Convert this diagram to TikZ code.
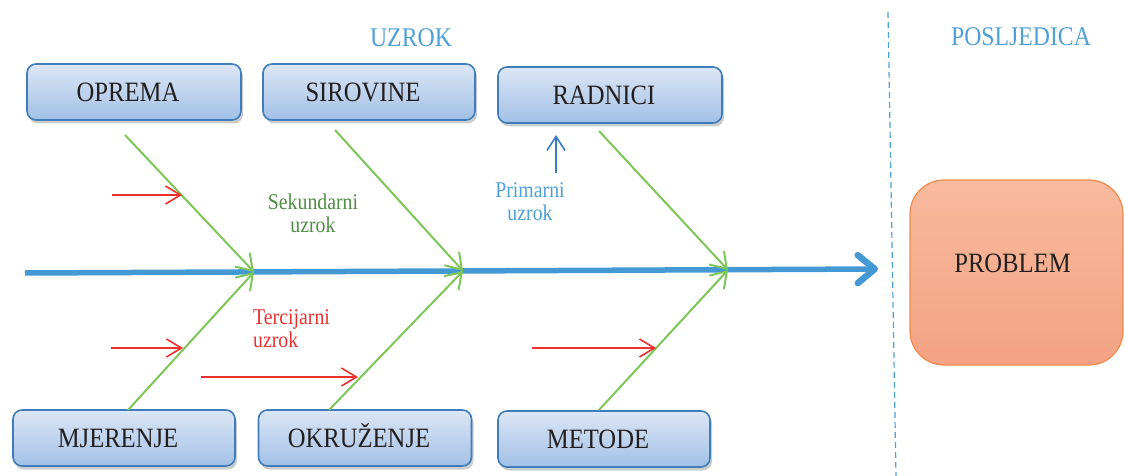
\documentclass[tikz,border=0pt]{standalone}
\usepackage{fontspec}
\setmainfont{Liberation Serif}[FakeStretch=0.88]
\usetikzlibrary{arrows.meta,shadows}
\definecolor{ink}{RGB}{35,31,32}
\definecolor{boxline}{RGB}{62,124,186}
\definecolor{boxtop}{RGB}{220,231,246}
\definecolor{boxbot}{RGB}{162,192,230}
\definecolor{hdrblue}{RGB}{78,160,216}
\definecolor{spineblue}{RGB}{68,152,212}
\definecolor{primblue}{RGB}{58,124,192}
\definecolor{bonegreen}{RGB}{126,198,88}
\definecolor{sekgreen}{RGB}{78,140,69}
\definecolor{terred}{RGB}{236,48,48}
\definecolor{probtop}{RGB}{248,186,157}
\definecolor{probbot}{RGB}{244,162,131}
\definecolor{probline}{RGB}{240,138,75}
\begin{document}
\begin{tikzpicture}[x=1pt, y=-1pt, every node/.style={font=\fontsize{28}{32}\selectfont, text=ink},
  cause/.style={draw=boxline, line width=1.6pt, rounded corners=9pt, top color=boxtop, bottom color=boxbot,
    minimum height=56pt, text height=18.5pt, text depth=0pt,
    drop shadow={shadow xshift=2pt, shadow yshift=-3.5pt, opacity=0.4},
    execute at begin node={\hspace*{-12pt}}},
  header/.style={font=\fontsize{27}{30}\selectfont, text=hdrblue, text height=18pt, text depth=0pt},
  note/.style={font=\fontsize{22.5}{23}\selectfont, inner sep=0pt},
  bone/.style={bonegreen, line width=2pt, -{Straight Barb[length=15pt,width=20pt]}},
  sub/.style={terred, line width=1.6pt, -{Straight Barb[length=15pt,width=18pt]}}]
\useasboundingbox (0,0) rectangle (1124,476);
% headers
\node[header] (uzrok) at (411,38) {UZROK};
\node[header] (posljedica) at (1021,37) {POSLJEDICA};
\coordinate (dtop) at (888,12);
\coordinate (dbot) at (896,476);
\draw[hdrblue, line width=1.2pt, dash pattern=on 6pt off 4pt] (dtop) -- (dbot);
% cause boxes
\foreach \name/\x/\y/\w/\txt in {opr/134/92/214/OPREMA, sir/369/92/212/SIROVINE, rad/610/95/224/RADNICI,
    mje/124/438/222/MJERENJE, okr/365/438/213/OKRUŽENJE, met/604/439/212/METODE} {
  \node[cause, minimum width=\w pt] (\name) at (\x,\y) {\txt};
}
% effect
\node[draw=probline, line width=1.2pt, rounded corners=34pt, top color=probtop, bottom color=probbot,
  minimum width=213pt, minimum height=185pt, text height=18.5pt, text depth=0pt,
  execute at begin node={\hspace*{-8pt}}] (problem) at (1016.5,272.5) {\raisebox{9pt}{PROBLEM}};
% spine
\coordinate (tail) at (25,273);
\coordinate (head) at (878,269);
\draw[spineblue, line width=5.5pt, -{Straight Barb[length=17pt,width=28pt,line width=6.5pt,round]}] (tail) -- (head);
% bones
\coordinate (j1) at (254,272);
\coordinate (j2) at (463,271);
\coordinate (j3) at (728,270);
\foreach \s/\j/\x/\y in {s1/j1/125/135, s2/j2/335/130, s3/j3/599/131, m1/j1/128/410, m2/j2/329/410, m3/j3/599/410} {
  \coordinate (\s) at (\x,\y);
  \draw[bone] (\s) -- (\j);
}
% tertiary causes
\foreach \a/\b/\xa/\xb/\y in {ra/rb/112/182/195, rc/rd/111/183/348, re/rf/201/358/377, rg/rh/532/656/348} {
  \coordinate (\a) at (\xa,\y);
  \coordinate (\b) at (\xb,\y);
  \draw[sub] (\a) -- (\b);
}
% primary cause
\coordinate (p0) at (556,173);
\coordinate (p1) at (556,135);
\draw[primblue, line width=1.6pt, -{Straight Barb[length=14pt,width=18pt]}] (p0) -- (p1);
% labels
\node[note, text=hdrblue, align=center] (prim) at (530,201.5) {Primarni\\uzrok};
\node[note, text=sekgreen, align=center] (sek) at (313,213.5) {Sekundarni\\uzrok};
\node[note, text=terred, align=left, anchor=west] (ter) at (253,328.5) {Tercijarni\\uzrok};
\end{tikzpicture}
\end{document}
